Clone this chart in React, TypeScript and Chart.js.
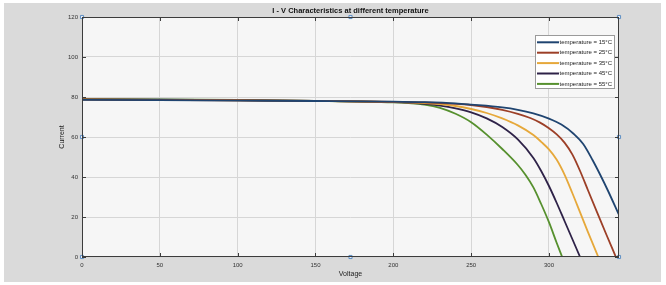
import React, { useEffect, useRef } from "react";
import { Chart, registerables } from "chart.js";
Chart.register(...registerables);

const titleText = "I - V Characteristics at different temperature";
const xLabel = "Voltage";
const yLabel = "Current";
const temperatures = [15, 25, 35, 45, 55];
const seriesColors = ["#1f4470", "#9c3f27", "#e6a83a", "#2e2248", "#56902e"];

const v15 = [0, 50, 100, 150, 200, 220, 240, 250, 270, 280, 290, 300, 308, 316, 322, 328, 333, 338, 345];
const i15 = [78.6, 78.4, 78.2, 78.0, 77.7, 77.4, 76.8, 76.2, 74.8, 73.6, 71.8, 69.2, 66.2, 61.5, 56.5, 48.5, 41.0, 33.0, 21.0];

const v25 = [0, 50, 100, 150, 200, 220, 240, 250, 260, 270, 280, 288, 294, 300, 305, 310, 315, 320, 325, 331, 337, 343];
const i25 = [78.7, 78.5, 78.3, 78.0, 77.6, 77.3, 76.6, 76.0, 75.0, 73.6, 71.6, 69.5, 67.3, 64.4, 61.3, 57.2, 51.3, 43.0, 33.5, 22.2, 11.0, 0];

const v35 = [0, 50, 100, 150, 200, 220, 230, 240, 250, 260, 270, 280, 290, 295, 300, 305, 310, 315, 320, 325, 331.7];
const i35 = [78.8, 78.6, 78.3, 78.0, 77.5, 77.0, 76.4, 75.5, 74.0, 72.0, 69.3, 65.8, 61.0, 57.6, 53.8, 48.6, 41.2, 32.0, 22.3, 12.6, 0];

const v45 = [0, 50, 100, 150, 200, 210, 220, 230, 240, 250, 260, 270, 280, 290, 295, 300, 305, 310, 315, 320];
const i45 = [78.9, 78.7, 78.4, 78.0, 77.4, 77.1, 76.6, 75.7, 74.3, 72.3, 69.3, 65.0, 58.8, 49.5, 43.0, 35.5, 27.0, 18.0, 9.0, 0];

const v55 = [0, 50, 100, 150, 200, 210, 220, 230, 240, 250, 260, 270, 280, 285, 290, 295, 300, 305, 308.5];
const i55 = [79.0, 78.8, 78.5, 78.1, 77.3, 76.9, 76.2, 74.6, 71.6, 67.4, 61.2, 54.0, 46.0, 41.0, 34.8, 26.5, 17.4, 7.0, 0];

const voltages = [v15, v25, v35, v45, v55];
const currents = [i15, i25, i35, i45, i55];

const xTicks = [0, 50, 100, 150, 200, 250, 300];
const yTicks = [0, 20, 40, 60, 80, 100, 120];
const xMin = 0;
const xMax = 345;
const yMin = 0;
const yMax = 120;

// figure edit-mode selection handles
const handleV = [0, 172.5, 345, 0, 345, 0, 172.5, 345];
const handleI = [120, 120, 120, 60, 60, 0, 0, 0];

const FONT = "'Liberation Sans', Arial, sans-serif";

const decorPlugin = {
  id: "decor",
  beforeDraw(chart: any) {
    const { ctx, width, height, chartArea } = chart;
    ctx.save();
    ctx.fillStyle = "#ffffff";
    ctx.fillRect(0, 0, width, height);
    ctx.fillStyle = "#dadada";
    ctx.fillRect(4, 3, 657, 279);
    ctx.fillStyle = "#f6f6f6";
    ctx.fillRect(chartArea.left, chartArea.top, chartArea.right - chartArea.left, chartArea.bottom - chartArea.top);
    ctx.restore();
  },
  afterDatasetsDraw(chart: any) {
    const { ctx, chartArea } = chart;
    const { left, right, top, bottom } = chartArea;
    const xs = chart.scales.x;
    const ys = chart.scales.y;
    ctx.save();
    ctx.strokeStyle = "#3c3c3c";
    ctx.lineWidth = 1;
    ctx.strokeRect(left + 0.5, top + 0.5, right - left - 1, bottom - top - 1);
    ctx.beginPath();
    xTicks.forEach((t) => {
      const px = Math.round(xs.getPixelForValue(t)) + 0.5;
      ctx.moveTo(px, bottom);
      ctx.lineTo(px, bottom - 4);
      ctx.moveTo(px, top);
      ctx.lineTo(px, top + 4);
    });
    yTicks.forEach((t) => {
      const py = Math.round(ys.getPixelForValue(t)) + 0.5;
      ctx.moveTo(left, py);
      ctx.lineTo(left + 4, py);
      ctx.moveTo(right, py);
      ctx.lineTo(right - 4, py);
    });
    ctx.stroke();

    // legend
    const lx = right - 84;
    const ly = top + 18;
    const lw = 80;
    const lh = 54;
    ctx.fillStyle = "#ffffff";
    ctx.fillRect(lx, ly, lw, lh);
    ctx.strokeStyle = "#9a9a9a";
    ctx.strokeRect(lx + 0.5, ly + 0.5, lw - 1, lh - 1);
    const sets = chart.data.datasets.filter((d: any) => d.isSeries);
    sets.forEach((d: any, k: number) => {
      const cy = ly + 7.3 + k * 10.4;
      ctx.strokeStyle = d.borderColor;
      ctx.lineWidth = 2;
      ctx.beginPath();
      ctx.moveTo(lx + 2, cy);
      ctx.lineTo(lx + 24, cy);
      ctx.stroke();
      ctx.fillStyle = "#222";
      ctx.font = `6px ${FONT}`;
      ctx.textBaseline = "middle";
      ctx.textAlign = "left";
      ctx.fillText(d.label, lx + 24.5, cy);
    });

    ctx.fillStyle = "#111";
    ctx.font = `bold 7.5px ${FONT}`;
    ctx.textAlign = "center";
    ctx.textBaseline = "middle";
    ctx.fillText(titleText, (left + right) / 2, 10.5);
    ctx.restore();
  },
};

export default function App() {
  const ref = useRef<HTMLCanvasElement | null>(null);
  useEffect(() => {
    if (!ref.current) return;
    const seriesSets = temperatures.map((t, k) => ({
      label: `temperature = ${t}°C`,
      isSeries: true,
      data: voltages[k].map((v, j) => ({ x: v, y: currents[k][j] })),
      borderColor: seriesColors[k],
      backgroundColor: seriesColors[k],
      borderWidth: 1.8,
      pointRadius: 0,
      fill: false,
      cubicInterpolationMode: "monotone" as const,
    }));
    const handleSet = {
      label: "handles",
      isSeries: false,
      data: handleV.map((v, j) => ({ x: v, y: handleI[j] })),
      showLine: false,
      pointStyle: "rect" as const,
      pointRadius: 2.2,
      borderColor: "#5f8fc4",
      backgroundColor: "#e6eef7",
      borderWidth: 1,
      clip: false as any,
    };
    const chart = new Chart(ref.current, {
      type: "line",
      data: { datasets: [...seriesSets, handleSet] as any },
      options: {
        animation: false,
        responsive: false,
        devicePixelRatio: 1,
        events: [],
        layout: { padding: { left: 0, top: 17, right: 47, bottom: 0 } },
        plugins: { legend: { display: false }, title: { display: false }, tooltip: { enabled: false } },
        scales: {
          x: {
            type: "linear",
            min: xMin,
            max: xMax,
            afterBuildTicks: (s: any) => {
              s.ticks = xTicks.map((v) => ({ value: v }));
            },
            afterFit: (s: any) => {
              s.height = 28;
            },
            grid: { color: "#d6d6d6", lineWidth: 1, drawTicks: false },
            border: { display: false },
            ticks: { padding: 5, color: "#333", font: { family: FONT, size: 6 }, maxRotation: 0, autoSkip: false },
            title: { display: true, text: xLabel, color: "#222", font: { family: FONT, size: 7 }, padding: { top: 0, bottom: 6.8 } },
          },
          y: {
            type: "linear",
            min: yMin,
            max: yMax,
            afterBuildTicks: (s: any) => {
              s.ticks = yTicks.map((v) => ({ value: v }));
            },
            afterFit: (s: any) => {
              s.width = 82;
            },
            grid: { color: "#d6d6d6", lineWidth: 1, drawTicks: false },
            border: { display: false },
            ticks: { padding: 4, color: "#333", font: { family: FONT, size: 6 }, autoSkip: false },
            title: { display: true, text: yLabel, color: "#222", font: { family: FONT, size: 7 }, padding: { top: 57.8, bottom: 0 } },
          },
        },
      },
      plugins: [decorPlugin],
    });
    return () => chart.destroy();
  }, []);
  return (
    <div style={{ position: "fixed", left: 0, top: 0, width: 666, height: 285 }}>
      <canvas ref={ref} width={666} height={285} style={{ width: 666, height: 285, display: "block" }} />
    </div>
  );
}
